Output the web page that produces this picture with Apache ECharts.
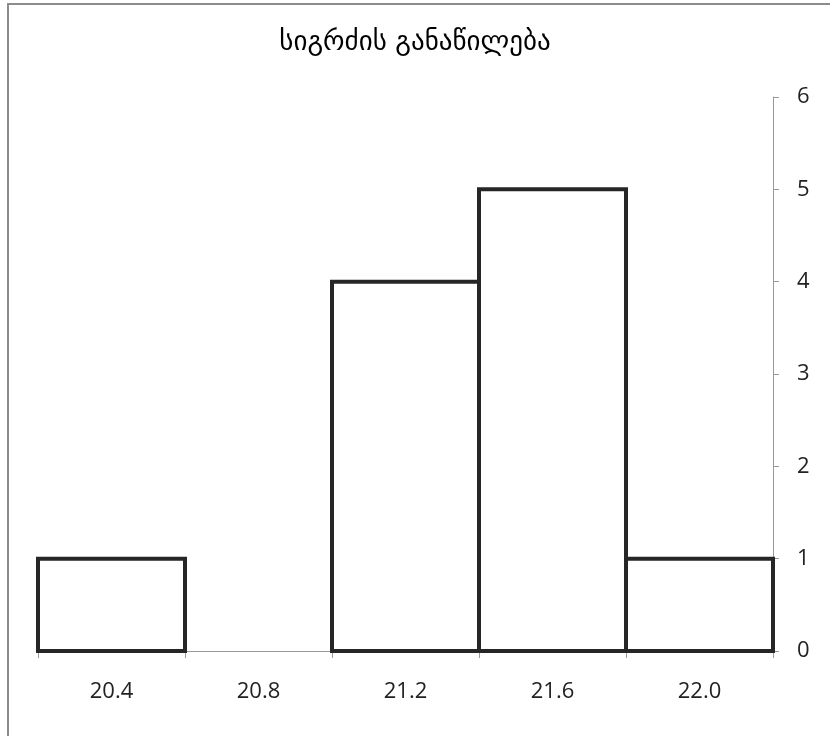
<!DOCTYPE html>
<html>
<head>
<meta charset="utf-8">
<script src="https://cdn.jsdelivr.net/npm/echarts@6/dist/echarts.min.js"></script>
<style>
html,body{margin:0;padding:0;background:#fff;}
#chart{width:830px;height:736px;}
</style>
</head>
<body>
<div id="chart"></div>
<script>
const titleText = 'სიგრძის განაწილება';
const categories = ['20.4', '20.8', '21.2', '21.6', '22.0'];
const counts = [1, 0, 4, 5, 1];
const yTicks = [0, 1, 2, 3, 4, 5, 6];

const chart = echarts.init(document.getElementById('chart'), null, {renderer: 'canvas'});
const labelFont = '"Open Sans", Lato, sans-serif';
chart.setOption({
  backgroundColor: '#fff',
  animation: false,
  title: {
    text: titleText,
    left: 'center',
    top: 24,
    textStyle: {fontFamily: '"DejaVu Sans", sans-serif', fontSize: 27, fontWeight: 'normal', color: '#000'}
  },
  graphic: [{
    type: 'rect',
    shape: {x: 8, y: 4, width: 900, height: 900},
    style: {fill: 'none', stroke: '#8c8c8c', lineWidth: 2},
    silent: true
  }],
  grid: {left: 38, right: 57, top: 97, bottom: 85, containLabel: false},
  xAxis: {
    type: 'category',
    data: categories,
    boundaryGap: true,
    axisLine: {show: true, lineStyle: {color: '#999', width: 1}},
    axisTick: {show: true, alignWithLabel: false, length: 7, lineStyle: {color: '#999'}},
    axisLabel: {color: '#222', fontFamily: labelFont, fontSize: 22, margin: 30},
    splitLine: {show: false}
  },
  yAxis: {
    type: 'value',
    position: 'right',
    min: yTicks[0],
    max: yTicks[yTicks.length - 1],
    interval: 1,
    axisLine: {show: true, lineStyle: {color: '#999', width: 1}},
    axisTick: {show: true, length: 6, lineStyle: {color: '#999'}},
    axisLabel: {color: '#222', fontFamily: labelFont, fontSize: 22, margin: 24},
    splitLine: {show: false}
  },
  series: [{
    type: 'custom',
    data: counts.map((v, i) => [i, v]),
    z: 3,
    renderItem: function (params, api) {
      const idx = api.value(0);
      const val = api.value(1);
      if (!val) return null;
      const top = api.coord([idx, val]);
      const base = api.coord([idx, 0]);
      const w = api.size([1, 0])[0];
      return {
        type: 'rect',
        shape: {x: top[0] - w / 2, y: top[1], width: w, height: base[1] - top[1]},
        style: {fill: '#fff', stroke: '#262626', lineWidth: 4}
      };
    }
  }]
});
</script>
</body>
</html>
